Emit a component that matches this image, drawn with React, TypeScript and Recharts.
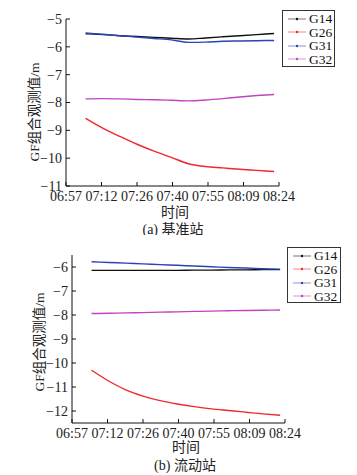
import React from "react";
import { LineChart, Line, XAxis, YAxis, Legend } from "recharts";

// time axis in minutes after 06:57
const minutes = [8, 15, 22, 29, 36, 43, 50, 57, 64, 71, 78, 85];
const timeTicks = [0, 14.5, 29, 43.5, 58, 72.5, 87];
const timeLabels = ["06:57", "07:12", "07:26", "07:40", "07:55", "08:09", "08:24"];

const seriesNames = ["G14", "G26", "G31", "G32"];
const seriesColors = ["#111111", "#f0282d", "#2a44b8", "#c044c0"];

// (a) 基准站
const baseG14 = [-5.53, -5.56, -5.6, -5.63, -5.66, -5.69, -5.72, -5.68, -5.64, -5.6, -5.56, -5.52];
const baseG26 = [-8.57, -8.92, -9.22, -9.5, -9.75, -9.97, -10.2, -10.3, -10.35, -10.4, -10.44, -10.48];
const baseG31 = [-5.5, -5.55, -5.6, -5.65, -5.7, -5.75, -5.84, -5.83, -5.8, -5.79, -5.78, -5.77];
const baseG32 = [-7.87, -7.86, -7.87, -7.89, -7.9, -7.92, -7.94, -7.91, -7.86, -7.8, -7.75, -7.71];

// (b) 流动站
const roverG14 = [-6.14, -6.14, -6.14, -6.14, -6.14, -6.14, -6.13, -6.13, -6.12, -6.12, -6.11, -6.11];
const roverG26 = [-10.3, -10.75, -11.12, -11.38, -11.57, -11.71, -11.82, -11.91, -11.98, -12.05, -12.12, -12.18];
const roverG31 = [-5.78, -5.81, -5.84, -5.87, -5.9, -5.93, -5.96, -5.99, -6.02, -6.04, -6.07, -6.09];
const roverG32 = [-7.94, -7.93, -7.91, -7.9, -7.88, -7.87, -7.85, -7.84, -7.82, -7.81, -7.8, -7.79];

const baseTicks = [-11, -10, -9, -8, -7, -6, -5];
const roverTicks = [-12, -11, -10, -9, -8, -7, -6];

const serif = "'Times New Roman', 'Liberation Serif', 'Noto Sans CJK SC', serif";

const makeData = (cols) =>
  minutes.map((m, i) => {
    const row = { t: m };
    seriesNames.forEach((n, k) => (row[n] = cols[k][i]));
    return row;
  });

const fmtY = (v) => String(v).replace("-", "\u2212");
const fmtX = (v) => timeLabels[timeTicks.indexOf(v)] ?? "";

function LegendBox() {
  return (
    <div
      style={{
        border: "1px solid #333",
        background: "#fff",
        boxSizing: "border-box",
        width: "100%",
        height: "100%",
        padding: "1px 0 0 4px",
        fontFamily: serif,
        fontSize: 13.5,
        lineHeight: "13.5px",
        color: "#111",
      }}
    >
      {seriesNames.map((n, i) => (
        <div key={n} style={{ display: "flex", alignItems: "center" }}>
          <svg width={20} height={10} style={{ marginRight: 2 }}>
            <line x1={1} y1={5} x2={19} y2={5} stroke={seriesColors[i]} strokeWidth={0.8} opacity={0.7} />
            <circle cx={10} cy={5} r={1.2} fill={seriesColors[i]} />
          </svg>
          <span>{n}</span>
        </div>
      ))}
    </div>
  );
}

function GFChart({ data, height, xHeight, margin, yWidth, domain, ticks, yLabel, xLabel, caption, legendPos }) {
  return (
    <LineChart width={357} height={height} data={data} margin={margin}>
      <XAxis
        dataKey="t"
        type="number"
        domain={[0, 87]}
        ticks={timeTicks}
        interval={0}
        tickFormatter={fmtX}
        tickSize={-4}
        tickMargin={9}
        height={xHeight}
        stroke="#111"
        tick={{ fontFamily: serif, fontSize: 14, fill: "#222" }}
        label={{
          content: () => (
            <g fontFamily={serif} fontSize={14} fill="#222" textAnchor="middle">
              <text x={xLabel.x} y={xLabel.y} dominantBaseline="central">时间</text>
              <text x={caption.x} y={caption.y} dominantBaseline="central">{caption.text}</text>
            </g>
          ),
        }}
      />
      <YAxis
        type="number"
        domain={domain}
        ticks={ticks}
        interval={0}
        tickFormatter={fmtY}
        tickSize={-4}
        tickMargin={8}
        width={yWidth}
        stroke="#111"
        tick={{ fontFamily: serif, fontSize: 14, fill: "#222" }}
        label={{
          content: () => (
            <text
              x={yLabel.x}
              y={yLabel.y}
              transform={`rotate(-90 ${yLabel.x} ${yLabel.y})`}
              textAnchor="middle"
              dominantBaseline="central"
              fontFamily={serif}
              fontSize={13.5}
              fill="#222"
            >
              GF组合观测值/m
            </text>
          ),
        }}
      />
      <Legend
        layout="vertical"
        align="center"
        verticalAlign="middle"
        content={() => <LegendBox />}
        wrapperStyle={{ left: legendPos.left, top: legendPos.top, width: legendPos.width, height: legendPos.height }}
      />
      {seriesNames.map((n, i) => (
        <Line
          key={n}
          type="monotone"
          dataKey={n}
          stroke={seriesColors[i]}
          strokeWidth={1.4}
          dot={false}
          isAnimationActive={false}
        />
      ))}
    </LineChart>
  );
}

export default function App() {
  const baseData = makeData([baseG14, baseG26, baseG31, baseG32]);
  const roverData = makeData([roverG14, roverG26, roverG31, roverG32]);
  return (
    <div style={{ position: "absolute", left: 0, top: 0, width: 357, height: 475, background: "#fff" }}>
      <div style={{ position: "absolute", left: 0, top: 0 }}>
        <GFChart
          data={baseData}
          height={235}
          xHeight={49}
          margin={{ top: 19, right: 78, bottom: 0, left: 0 }}
          yWidth={66}
          domain={[-11, -5]}
          ticks={baseTicks}
          yLabel={{ x: 34, y: 112 }}
          xLabel={{ x: 175, y: 212 }}
          caption={{ x: 173, y: 229, text: "(a) 基准站" }}
          legendPos={{ left: 282, top: 10, width: 53, height: 57 }}
        />
      </div>
      <div style={{ position: "absolute", left: 0, top: 235 }}>
        <GFChart
          data={roverData}
          height={240}
          xHeight={52}
          margin={{ top: 20, right: 72, bottom: 0, left: 0 }}
          yWidth={72}
          domain={[-12.5, -5.5]}
          ticks={roverTicks}
          yLabel={{ x: 39, y: 107 }}
          xLabel={{ x: 186, y: 212 }}
          caption={{ x: 185, y: 230, text: "(b) 流动站" }}
          legendPos={{ left: 287, top: 12, width: 54, height: 56 }}
        />
      </div>
    </div>
  );
}
